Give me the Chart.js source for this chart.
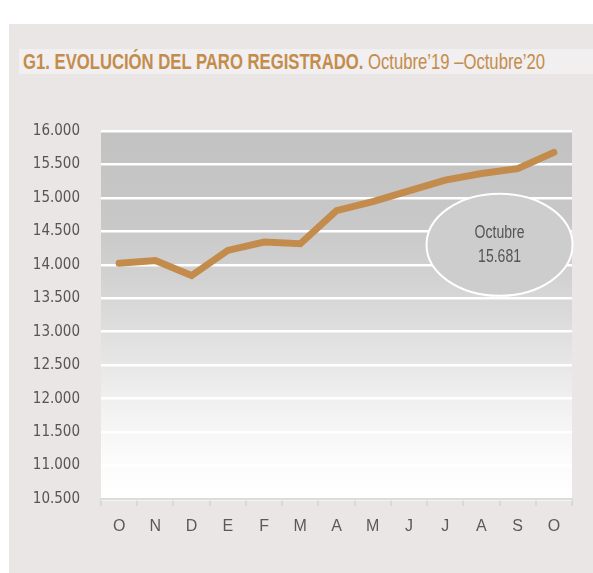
<!DOCTYPE html>
<html>
<head>
<meta charset="utf-8">
<script src="https://cdn.jsdelivr.net/npm/chart.js@4.4.1/dist/chart.umd.min.js"></script>
<style>
  html, body { margin:0; padding:0; background:#ffffff; }
  #wrap { position:relative; width:593px; height:573px; overflow:hidden; }
  #panel { position:absolute; left:9px; top:24px; width:584px; height:549px; background:#ebe6e6; }
  #strip { position:absolute; left:19px; top:49px; width:574px; height:25px; background:#f1efef; }
  #title { position:absolute; left:23px; top:49px; height:25px; line-height:26px; white-space:nowrap;
           font-family:"Liberation Sans","Arial",sans-serif; transform-origin:0 0;
           font-size:22px; color:#c48c4c; }
  #title b { font-weight:bold; }
  canvas { position:absolute; left:0; top:0; }
</style>
</head>
<body>
<div id="wrap">
  <div id="panel"></div>
  <div id="strip"></div>
  <div id="title"><b>G1. EVOLUCIÓN DEL PARO REGISTRADO.</b> Octubre’19 –Octubre’20</div>
  <canvas id="c" width="593" height="573"></canvas>
</div>
<script>
const categories = ["O","N","D","E","F","M","A","M","J","J","A","S","O"];
const paro = [14025, 14065, 13840, 14215, 14340, 14315, 14810, 14945, 15105, 15265, 15365, 15437, 15681];
const yTicks = [10500, 11000, 11500, 12000, 12500, 13000, 13500, 14000, 14500, 15000, 15500, 16000];
const calloutLabel = ["Octubre", "15.681"];

// condense the title to the reference width
(function(){
  const t = document.getElementById('title');
  const w = t.getBoundingClientRect().width;
  t.style.transform = 'scaleX(' + (522 / w) + ')';
})();

const NARROW = '"DejaVu Sans Condensed","Liberation Sans",sans-serif';

const bgPlugin = {
  id: 'bg',
  beforeDraw(chart) {
    const {ctx, chartArea: a} = chart;
    const g = ctx.createLinearGradient(0, a.top, 0, a.bottom);
    g.addColorStop(0, '#c2c2c2');
    g.addColorStop(0.25, '#c8c8c8');
    g.addColorStop(0.40, '#d2d2d2');
    g.addColorStop(0.55, '#dfdfdf');
    g.addColorStop(0.72, '#efefef');
    g.addColorStop(0.88, '#fbfbfb');
    g.addColorStop(1, '#ffffff');
    ctx.save();
    ctx.fillStyle = g;
    ctx.fillRect(a.left, a.top, a.right - a.left, a.bottom - a.top);
    ctx.restore();
  }
};

const calloutPlugin = {
  id: 'callout',
  afterDatasetsDraw(chart) {
    const {ctx, scales: {x, y}} = chart;
    const cx = x.getPixelForValue(10.5);
    const cy = y.getPixelForValue(14300);
    ctx.save();
    ctx.beginPath();
    ctx.ellipse(cx, cy, 73, 51, 0, 0, Math.PI * 2);
    ctx.fillStyle = '#cdcdcd';
    ctx.fill();
    ctx.lineWidth = 2;
    ctx.strokeStyle = '#ffffff';
    ctx.stroke();
    ctx.fillStyle = '#555555';
    ctx.font = '18px "Liberation Sans",Arial,sans-serif';
    ctx.textAlign = 'center';
    ctx.textBaseline = 'middle';
    ctx.translate(cx, cy);
    ctx.scale(0.78, 1);
    ctx.fillText(calloutLabel[0], 0, -12);
    ctx.fillText(calloutLabel[1], 0, 12);
    ctx.restore();
  }
};

new Chart(document.getElementById('c'), {
  type: 'line',
  data: {
    labels: categories,
    datasets: [{
      data: paro,
      borderColor: '#c48c4c',
      borderWidth: 7,
      borderCapStyle: 'round',
      borderJoinStyle: 'miter',
      pointRadius: 0,
      tension: 0,
      fill: false
    }]
  },
  options: {
    responsive: false,
    animation: false,
    events: [],
    layout: { padding: { top: 131, right: 21, bottom: 34, left: 0 } },
    plugins: { legend: { display: false }, tooltip: { enabled: false }, title: { display: false } },
    scales: {
      x: {
        offset: true,
        afterFit(s) { s.height = 40; },
        grid: { drawOnChartArea: false, drawTicks: true, tickLength: 7, color: '#d8d8d8', lineWidth: 2, offset: true },
        border: { display: true, color: '#dcdcdc', width: 2 },
        ticks: { color: '#5a5a5a', padding: 11, font: { family: '"Liberation Sans","Arial",sans-serif', size: 16 } }
      },
      y: {
        min: 10500, max: 16000,
        afterFit(s) { s.width = 101; },
        afterBuildTicks(s) { s.ticks = yTicks.map(v => ({ value: v })); },
        grid: { drawTicks: false, color: '#ffffff', lineWidth: 2.5 },
        border: { display: false },
        ticks: {
          color: '#555555', padding: 21,
          font: { family: NARROW, size: 15 },
          callback: v => String(v).replace(/(\d)(?=(\d{3})$)/, '$1.')
        }
      }
    }
  },
  plugins: [bgPlugin, calloutPlugin]
});
</script>
</body>
</html>
